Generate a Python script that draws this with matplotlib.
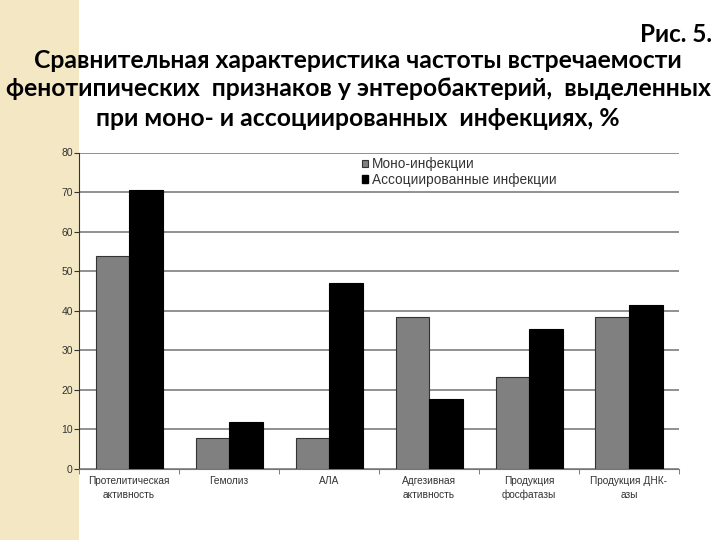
import numpy as np
import matplotlib.pyplot as plt
from matplotlib.patches import Rectangle, Circle, Patch

categories = ['Протелитическая\nактивность', 'Гемолиз', 'АЛА', 'Адгезивная\nактивность',
              'Продукция\nфосфатазы', 'Продукция ДНК-\nазы']
mono = [53.8, 7.9, 7.9, 38.4, 23.2, 38.4]
assoc = [70.6, 11.9, 47.1, 17.7, 35.5, 41.4]
series_names = ['Моно-инфекции', 'Ассоциированные инфекции']
yticks = [0, 10, 20, 30, 40, 50, 60, 70, 80]

title_num = 'Рис. 5.'
title_lines = ['Сравнительная характеристика частоты встречаемости',
               'фенотипических  признаков у энтеробактерий,  выделенных',
               'при моно- и ассоциированных  инфекциях, %']

fig = plt.figure(figsize=(7.2, 5.4), dpi=100)
fig.patch.set_facecolor('white')

# beige strip on the left with faint arcs
W, H = 720, 540
fig.patches.append(Rectangle((0, 0), 79/W, 1, transform=fig.transFigure,
                             facecolor='#f3e7c4', edgecolor='none', zorder=0))
deco = fig.add_axes([0, 0, 79/W, 1], zorder=0)
deco.set_xlim(0, 79)
deco.set_ylim(540, 0)
deco.axis('off')
deco.patch.set_alpha(0)
for cx, cy, r in [(92, 8, 78), (72, 122, 50), (-20, 130, 70)]:
    deco.add_patch(Circle((cx, cy), r, facecolor='none', edgecolor='#fbf5e6', lw=3))

ax = fig.add_axes([79/W, 1-469/H, 600/W, (469-152.5)/H], zorder=2)
ax.patch.set_alpha(0)
x = np.arange(len(categories))
w = 0.335
ax.bar(x - w/2, mono, w, color='#808080', edgecolor='#333333', lw=0.8, zorder=3)
ax.bar(x + w/2, assoc, w, color='black', edgecolor='black', lw=0.8, zorder=3)

ax.set_xlim(-0.5, len(categories) - 0.5)
ax.set_ylim(0, 80)
ax.set_yticks(yticks)
ax.yaxis.grid(True, color='#888888', lw=1.3, zorder=1)
ax.set_axisbelow(True)
ax.set_xticks(x)
ax.set_xticklabels(categories, fontsize=7.3, color='#333333', family='Liberation Sans',
                   linespacing=1.45)
ax.set_xticks(np.arange(-0.5, len(categories), 1), minor=True)
ax.tick_params(axis='x', which='major', length=0, pad=5)
ax.tick_params(axis='x', which='minor', length=3.5, color='#666666')
ax.tick_params(axis='y', length=3.5, color='#333333', labelsize=7.5, labelcolor='#333333', pad=1)
for t in ax.get_yticklabels():
    t.set_family('Liberation Sans')
ax.spines['top'].set_visible(False)
ax.spines['right'].set_visible(False)
ax.spines['left'].set_color('#333333')
ax.spines['bottom'].set_color('#777777')

handles = [Patch(facecolor='#808080', edgecolor='#333333', lw=0.8),
           Patch(facecolor='black', edgecolor='black')]
leg = fig.legend(handles, series_names, loc='upper left',
                 bbox_to_anchor=(358/W, 1-153/H), frameon=False,
                 prop={'family': 'Liberation Sans', 'size': 9.8},
                 handlelength=0.45, handleheight=0.45, handletextpad=0.25,
                 labelspacing=0.12, borderpad=0.3, borderaxespad=0)
leg.set_zorder(5)
for t in leg.get_texts():
    t.set_color('#333333')

tfont = dict(family=['Lato', 'DejaVu Sans'], weight='bold', color='black')
fig.text(712/W, 1-34/H, title_num, ha='right', va='center', fontsize=17.5, **tfont)
for i, (line, y) in enumerate(zip(title_lines, [60, 89, 118])):
    fig.text(358/W, 1-y/H, line, ha='center', va='center', fontsize=17.8, **tfont)

fig.savefig('out.png', dpi=100)
